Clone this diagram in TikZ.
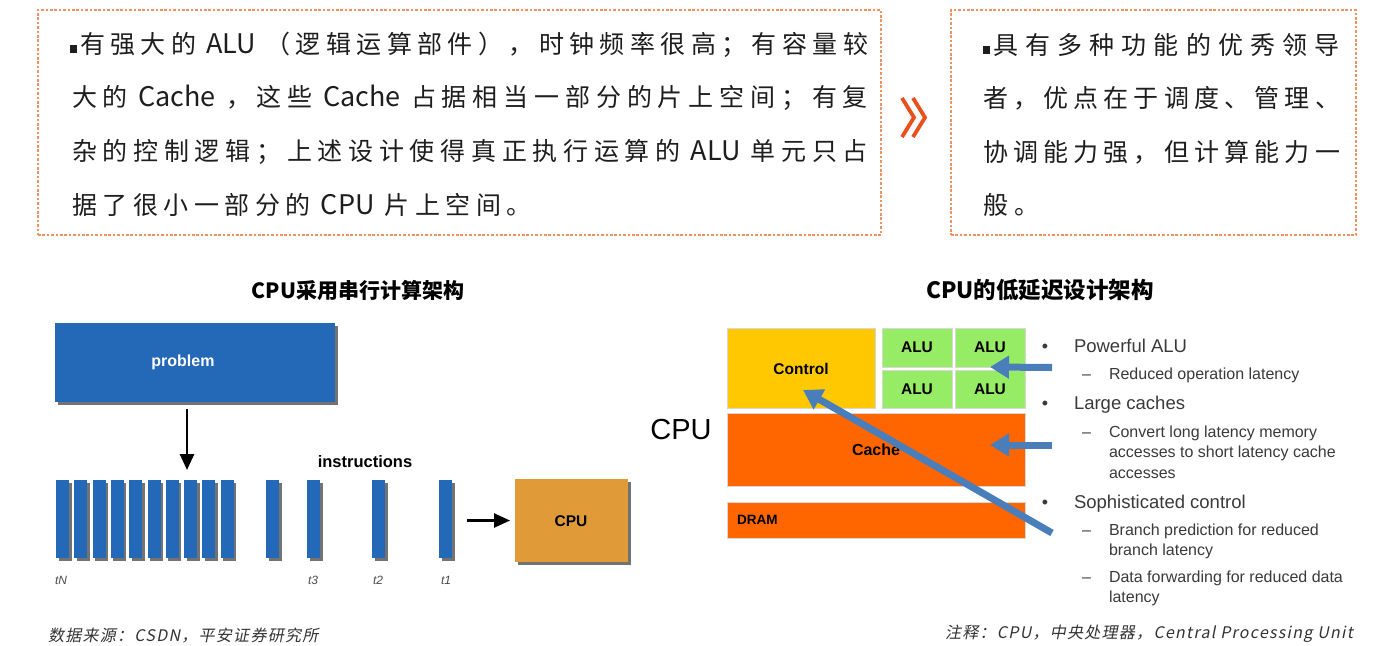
\documentclass[tikz,border=0pt]{standalone}
\usepackage{fontspec}
\setmainfont{Liberation Sans}
\newfontfamily\cjk{Noto Sans CJK SC}
\newfontfamily\cjkit[FakeSlant=0.2,LetterSpace=8]{Noto Sans CJK SC}
\usetikzlibrary{shadows,arrows.meta}
\definecolor{dashor}{RGB}{238,146,96}
\definecolor{chev}{RGB}{232,80,30}
\definecolor{pblue}{RGB}{36,104,184}
\definecolor{cpuor}{RGB}{224,155,56}
\definecolor{ctrlc}{RGB}{255,200,0}
\definecolor{alug}{RGB}{150,236,100}
\definecolor{cachec}{RGB}{255,102,0}
\definecolor{arrb}{RGB}{74,126,187}
\definecolor{txt}{RGB}{30,30,30}
\definecolor{gtxt}{RGB}{58,58,58}
\definecolor{edgec}{RGB}{215,215,215}
% spread the characters of a line evenly over a box of fixed width
\def\sprEnd{}
\def\sprEndM{\sprEnd}
\def\spr#1{\sprA#1\sprEnd}
\def\sprA#1{\def\sprTmp{#1}\ifx\sprTmp\sprEndM\unskip\else#1\hfil\expandafter\sprA\fi}
\newcommand\lat[1]{{\fontsize{27}{30}\selectfont\,#1\,}}
\begin{document}
\begin{tikzpicture}[x=1pt,y=-1pt,
  every node/.style={inner sep=0pt,outer sep=0pt},
  dashbox/.style={draw=dashor,line width=1.2pt,dash pattern=on 2.6pt off 1.8pt},
  topline/.style={anchor=west,text=txt,font=\cjk\fontsize{25}{30}\selectfont},
  titletxt/.style={text=black,font=\cjk\bfseries\fontsize{21}{24}\selectfont},
  foot/.style={anchor=west,text=black!80,font=\cjkit\fontsize{16}{18}\selectfont},
  shad/.style={drop shadow={shadow xshift=2.5pt,shadow yshift=-3pt,opacity=0.55,fill=black}},
  probbox/.style={fill=pblue,shad},
  instbar/.style={fill=pblue,shad,minimum width=13pt,minimum height=78pt},
  cpubox/.style={fill=cpuor,shad},
  tlab/.style={text=black!70,font=\itshape\fontsize{12}{14}\selectfont},
  blkarr/.style={line width=2.6pt,-{Triangle[width=14pt,length=16pt]}},
  chipbox/.style={draw=edgec,line width=1pt},
  bluearr/.style={draw=arrb,line width=7pt,-{Triangle[width=22pt,length=19pt]}},
  bul/.style={anchor=base,text=gtxt,font=\fontsize{18}{20}\selectfont},
  mainit/.style={anchor=base west,text=gtxt,font=\fontsize{18.5}{21}\selectfont},
  subdash/.style={anchor=base west,text=gtxt,font=\fontsize{16}{19}\selectfont},
  subit/.style={anchor=base west,text=gtxt,font=\fontsize{16}{19}\selectfont},
  chevron/.style={draw=chev,line width=3.8pt,miter limit=4}
]
\fill[white] (0,0) rectangle (1388,645);
\useasboundingbox (0,0) rectangle (1388,645);

% ---------- top boxes ----------
\node[dashbox,minimum width=843pt,minimum height=225pt] (lbox) at (459.5,122.5) {};
\node[dashbox,minimum width=405pt,minimum height=225pt] (rbox) at (1153.5,122.5) {};

\node[topline] (l1) at (70,45) {\hbox to 798pt{\rule[1pt]{7pt}{8pt}\hspace{3pt}\spr{有强大的{\lat{ALU}}（逻辑运算部件），时钟频率很高；有容量较}}};
\node[topline] (l2) at (72,98) {\hbox to 796pt{\spr{大的{\lat{Cache}}，这些{\lat{Cache}}占据相当一部分的片上空间；有复}}};
\node[topline] (l3) at (72,152) {\hbox to 796pt{\spr{杂的控制逻辑；上述设计使得真正执行运算的{\lat{ALU}}单元只占}}};
\node[topline] (l4) at (72,205) {\hbox to 460pt{\spr{据了很小一部分的{\lat{CPU}}片上空间。}}};

\node[topline] (r1) at (983,45) {\hbox to 357pt{\rule[1pt]{7pt}{8pt}\hspace{3pt}\spr{具有多种功能的优秀领导}}};
\node[topline] (r2) at (983,98) {\hbox to 357pt{\spr{者，优点在于调度、管理、}}};
\node[topline] (r3) at (983,152) {\hbox to 357pt{\spr{协调能力强，但计算能力一}}};
\node[topline] (r4) at (983,205) {\hbox to 56pt{\spr{般。}}};

\draw[chevron] (902,98) -- (914,117.5) -- (902,137);
\draw[chevron] (913,98) -- (925,117.5) -- (913,137);

% ---------- titles ----------
\node[titletxt] (ttl1) at (358,290) {CPU采用串行计算架构};
\node[titletxt,font=\cjk\bfseries\fontsize{22.5}{25}\selectfont] (ttl2) at (1040,290) {CPU的低延迟设计架构};

% ---------- left diagram ----------
\node[probbox,minimum width=280pt,minimum height=79pt] (prob) at (195,362.5) {};
\node[text=white,font=\bfseries\fontsize{16}{18}\selectfont] (probtxt) at (183,362) {problem};

\foreach \i in {0,...,9} {
  \node[instbar] (b\i) at ({62.5+18.3*\i},519) {};
}
\node[instbar] (b10) at (272.5,519) {};
\node[instbar] (bt3) at (313.5,519) {};
\node[instbar] (bt2) at (378.5,519) {};
\node[instbar] (bt1) at (445.5,519) {};

\node[font=\bfseries\fontsize{16.5}{18}\selectfont] (instr) at (365,462) {instructions};

\node[cpubox,minimum width=113pt,minimum height=83pt] (cpu1) at (571.5,520.5) {};
\node[font=\bfseries\fontsize{15.5}{18}\selectfont] (cpu1txt) at (571,521) {CPU};

\coordinate (downtip) at (187,470);
\draw[blkarr] (prob.south -| downtip) ++(0,7) -- (downtip);
\draw[blkarr,shorten <=15pt,shorten >=5pt] (bt1.east |- cpu1.west) -- (cpu1.west);

\node[tlab] (tN) at (61,580) {tN};
\node[tlab] (t3) at (313,580) {t3};
\node[tlab] (t2) at (378,580) {t2};
\node[tlab] (t1) at (446,580) {t1};

% ---------- right diagram ----------
\node[chipbox,fill=ctrlc,minimum width=148pt,minimum height=80pt] (ctrl) at (801,368) {};
\node[font=\bfseries\fontsize{15.5}{18}\selectfont] (ctrltxt) at (801,369) {Control};
\node[chipbox,fill=alug,minimum width=70pt,minimum height=39pt,font=\bfseries\fontsize{15.5}{18}\selectfont] (alu1) at (917,347.5) {ALU};
\node[chipbox,fill=alug,minimum width=70pt,minimum height=39pt,font=\bfseries\fontsize{15.5}{18}\selectfont] (alu2) at (990,347.5) {ALU};
\node[chipbox,fill=alug,minimum width=70pt,minimum height=38pt,font=\bfseries\fontsize{15.5}{18}\selectfont] (alu3) at (917,389) {ALU};
\node[chipbox,fill=alug,minimum width=70pt,minimum height=38pt,font=\bfseries\fontsize{15.5}{18}\selectfont] (alu4) at (990,389) {ALU};
\node[chipbox,fill=cachec,minimum width=298pt,minimum height=73pt] (cache) at (876,449.5) {};
\node[font=\bfseries\fontsize{16}{18}\selectfont] (cachetxt) at (876,450) {Cache};
\node[chipbox,fill=cachec,minimum width=298pt,minimum height=36pt] (dram) at (876,520) {};
\node[anchor=west,font=\bfseries\fontsize{13.5}{16}\selectfont] (dramtxt) at (737,520) {DRAM};
\node[font=\fontsize{29}{32}\selectfont] (cpubig) at (681,430) {CPU};

\coordinate (aluarr) at (1052,367.5);
\coordinate (cachearr) at (1052,445);
\coordinate (ctrlarr) at (1052,533);
\coordinate (ctrltip) at (803,390);
\draw[bluearr] (aluarr) -- (alu2.south);
\draw[bluearr] (cachearr) -- (cachearr -| alu2.south);
\draw[bluearr] (ctrlarr) -- (ctrltip);

% ---------- right list ----------
\node[bul] (bu1) at (1045,352) {•};
\node[mainit] (m1) at (1074,352) {Powerful ALU};
\node[subdash] (d1) at (1082,379) {–};
\node[subit] (s1) at (1109,379) {Reduced operation latency};
\node[bul] (bu2) at (1045,409) {•};
\node[mainit] (m2) at (1074,409) {Large caches};
\node[subdash] (d2) at (1082,437) {–};
\node[subit] (s2a) at (1109,437) {Convert long latency memory};
\node[subit] (s2b) at (1109,457) {accesses to short latency cache};
\node[subit] (s2c) at (1109,478) {accesses};
\node[bul] (bu3) at (1045,508) {•};
\node[mainit] (m3) at (1074,508) {Sophisticated control};
\node[subdash] (d3) at (1082,535) {–};
\node[subit] (s3a) at (1109,535) {Branch prediction for reduced};
\node[subit] (s3b) at (1109,555) {branch latency};
\node[subdash] (d4) at (1082,582) {–};
\node[subit] (s4a) at (1109,582) {Data forwarding for reduced data};
\node[subit] (s4b) at (1109,602) {latency};

% ---------- footers ----------
\node[foot] (src) at (48,636) {数据来源：CSDN，平安证券研究所};
\node[foot] (note) at (945,634) {注释：CPU，中央处理器，Central Processing Unit};
\end{tikzpicture}
\end{document}
